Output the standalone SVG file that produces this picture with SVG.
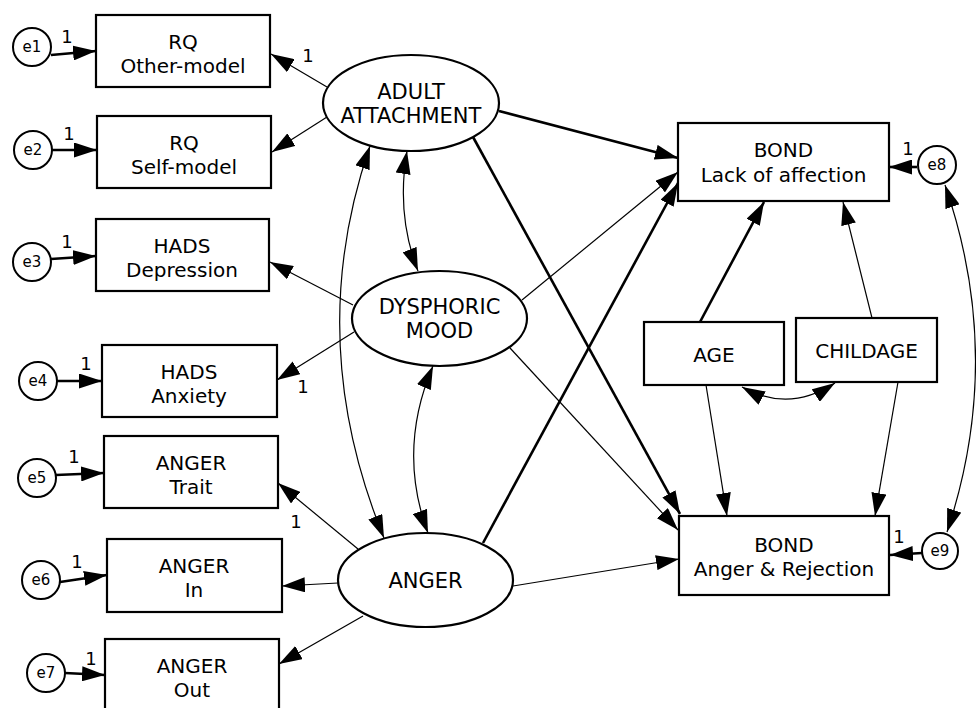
<svg xmlns="http://www.w3.org/2000/svg" width="976" height="708" viewBox="0 0 976 708">
<style>
text{font-family:"DejaVu Sans","Liberation Sans",sans-serif;fill:#000;text-anchor:middle}
.bt{font-size:20px}
.et{font-size:21px}
.st{font-size:15px}
.one{font-size:18px}
.box{fill:#fff;stroke:#000;stroke-width:2.2}
.ell{fill:#fff;stroke:#000;stroke-width:2.2}
.err{fill:#fff;stroke:#000;stroke-width:2}
.thick{fill:none;stroke:#000;stroke-width:2.6;marker-end:url(#ah)}
.thin{fill:none;stroke:#000;stroke-width:1.2;marker-end:url(#ah)}
.cov{fill:none;stroke:#000;stroke-width:1.2;marker-end:url(#ah);marker-start:url(#ah)}
</style>
<defs>
<marker id="ah" markerUnits="userSpaceOnUse" markerWidth="23" markerHeight="15" refX="23" refY="7.5" orient="auto-start-reverse" viewBox="0 0 23 15">
<path d="M0,0 L23,7.5 L0,15 z" fill="#000"/>
</marker>
</defs>
<g id="connectors">
<line class="thick" x1="51" y1="55" x2="96" y2="51"/>
<line class="thick" x1="52" y1="150" x2="97" y2="150"/>
<line class="thick" x1="51" y1="259" x2="96" y2="256"/>
<line class="thick" x1="57" y1="381" x2="102" y2="381"/>
<line class="thick" x1="56" y1="475" x2="104" y2="473"/>
<line class="thick" x1="60" y1="582" x2="107" y2="575"/>
<line class="thick" x1="65" y1="673" x2="105" y2="675"/>
<line class="thick" x1="917" y1="167" x2="889" y2="167"/>
<line class="thick" x1="922" y1="553" x2="890" y2="555"/>
<line class="thin" x1="327" y1="87" x2="271" y2="54"/>
<line class="thin" x1="327" y1="117" x2="272" y2="152"/>
<line class="thin" x1="353" y1="305" x2="270" y2="262"/>
<line class="thin" x1="354" y1="332" x2="277" y2="380"/>
<line class="thin" x1="358" y1="549" x2="278" y2="483"/>
<line class="thin" x1="338" y1="583" x2="282" y2="586"/>
<line class="thin" x1="363" y1="616" x2="279" y2="664"/>
<line class="thick" x1="499" y1="111" x2="678" y2="158"/>
<line class="thick" x1="473" y1="137" x2="680" y2="514"/>
<line class="thin" x1="510" y1="348" x2="678" y2="530"/>
<line class="thin" x1="522" y1="300" x2="678" y2="172"/>
<line class="thick" x1="483" y1="543" x2="678" y2="183"/>
<line class="thin" x1="513" y1="586" x2="679" y2="559"/>
<line class="thick" x1="700" y1="322" x2="764" y2="202"/>
<line class="thin" x1="872" y1="318" x2="843" y2="202"/>
<line class="thin" x1="706" y1="385" x2="727" y2="516"/>
<line class="thin" x1="898" y1="382" x2="875" y2="516"/>
<path class="cov" d="M742,387 Q789,413 835,383"/>
<path class="cov" d="M945,185 Q1005,358 947,532"/>
<path class="cov" d="M407,151 Q396,215 418,271"/>
<path class="cov" d="M370,146 Q303,340 384,538"/>
<path class="cov" d="M433,366 Q397,450 428,533"/>
</g>
<g id="labels">
<text class="one" x="67" y="43">1</text>
<text class="one" x="69" y="140">1</text>
<text class="one" x="67" y="248">1</text>
<text class="one" x="86" y="370">1</text>
<text class="one" x="74" y="463">1</text>
<text class="one" x="77" y="568">1</text>
<text class="one" x="91" y="665">1</text>
<text class="one" x="908" y="155">1</text>
<text class="one" x="899" y="543">1</text>
<text class="one" x="308" y="62">1</text>
<text class="one" x="303" y="393">1</text>
<text class="one" x="296" y="528">1</text>
</g>
<g id="e1"><circle class="err" cx="32" cy="47" r="19"/><text class="st" x="32" y="52">e1</text></g>
<g id="e2"><circle class="err" cx="33" cy="150" r="19"/><text class="st" x="33" y="155">e2</text></g>
<g id="e3"><circle class="err" cx="32" cy="262" r="19"/><text class="st" x="32" y="267">e3</text></g>
<g id="e4"><circle class="err" cx="38" cy="381" r="19"/><text class="st" x="38" y="386">e4</text></g>
<g id="e5"><circle class="err" cx="37" cy="478" r="19"/><text class="st" x="37" y="483">e5</text></g>
<g id="e6"><circle class="err" cx="41" cy="580" r="19"/><text class="st" x="41" y="585">e6</text></g>
<g id="e7"><circle class="err" cx="46" cy="673" r="19"/><text class="st" x="46" y="678">e7</text></g>
<g id="e8"><circle class="err" cx="937" cy="165" r="19"/><text class="st" x="937" y="170">e8</text></g>
<g id="e9"><circle class="err" cx="940" cy="551" r="18"/><text class="st" x="940" y="556">e9</text></g>
<g id="rq_other"><rect class="box" x="96" y="15" width="174" height="72"/><text class="bt" x="183" y="49">RQ</text><text class="bt" x="183" y="73">Other-model</text></g>
<g id="rq_self"><rect class="box" x="97" y="116" width="174" height="72"/><text class="bt" x="184" y="150">RQ</text><text class="bt" x="184" y="174">Self-model</text></g>
<g id="hads_dep"><rect class="box" x="96" y="219" width="173" height="72"/><text class="bt" x="182" y="253">HADS</text><text class="bt" x="182" y="277">Depression</text></g>
<g id="hads_anx"><rect class="box" x="102" y="345" width="175" height="72"/><text class="bt" x="189" y="379">HADS</text><text class="bt" x="189" y="403">Anxiety</text></g>
<g id="anger_trait"><rect class="box" x="104" y="436" width="174" height="72"/><text class="bt" x="191" y="470">ANGER</text><text class="bt" x="191" y="494">Trait</text></g>
<g id="anger_in"><rect class="box" x="107" y="539" width="175" height="73"/><text class="bt" x="194" y="573">ANGER</text><text class="bt" x="194" y="597">In</text></g>
<g id="anger_out"><rect class="box" x="105" y="639" width="174" height="72"/><text class="bt" x="192" y="673">ANGER</text><text class="bt" x="192" y="697">Out</text></g>
<g id="adult"><ellipse class="ell" cx="411" cy="103" rx="88" ry="48"/><text class="et" x="411" y="99">ADULT</text><text class="et" x="411" y="123">ATTACHMENT</text></g>
<g id="dysphoric"><ellipse class="ell" cx="439.5" cy="318.5" rx="87.5" ry="47.5"/><text class="et" x="439.5" y="314">DYSPHORIC</text><text class="et" x="439.5" y="338">MOOD</text></g>
<g id="anger"><ellipse class="ell" cx="425.5" cy="580" rx="87.5" ry="47"/><text class="et" x="425.5" y="588">ANGER</text></g>
<g id="bond_lack"><rect class="box" x="678" y="123" width="211" height="78"/><text class="bt" x="783.5" y="157">BOND</text><text class="bt" x="783.5" y="182">Lack of affection</text></g>
<g id="age"><rect class="box" x="644" y="322" width="140" height="63"/><text class="bt" x="714" y="362">AGE</text></g>
<g id="childage"><rect class="box" x="796" y="318" width="141" height="64"/><text class="bt" x="866.5" y="358">CHILDAGE</text></g>
<g id="bond_anger"><rect class="box" x="679" y="516" width="210" height="79"/><text class="bt" x="784" y="552">BOND</text><text class="bt" x="784" y="576">Anger &amp; Rejection</text></g>
</svg>
